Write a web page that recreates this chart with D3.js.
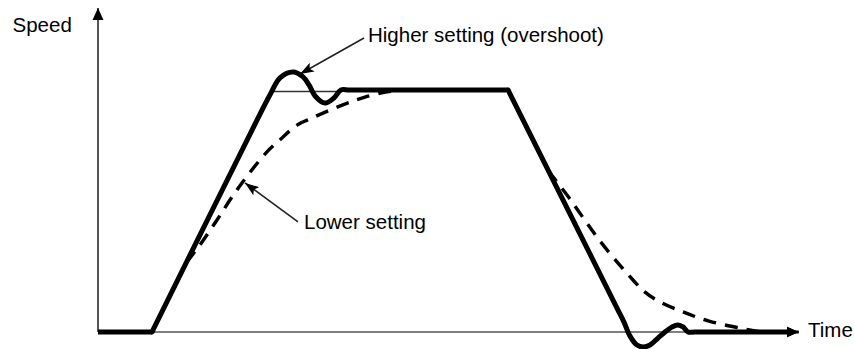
<!DOCTYPE html>
<html>
<head>
<meta charset="utf-8">
<script src="https://cdn.jsdelivr.net/npm/d3@7"></script>
<style>
  html, body { margin: 0; padding: 0; background: #fff; }
  svg { display: block; }
  text { font-family: "Liberation Sans", Arial, Helvetica, sans-serif; font-size: 20.5px; fill: #000; }
</style>
</head>
<body>
<svg id="chart" width="854" height="349"></svg>
<script>
// ---- Data (time units 0..100, speed units 0..100 = set speed) ----
const axisLabels = { x: "Time", y: "Speed" };
const annotationLabels = ["Higher setting (overshoot)", "Lower setting"];

// Higher setting (solid): accelerate, overshoot, hold, decelerate, undershoot
const higherTime  = [0, 7.45, 7.71, 7.95, 23.43, 24.71, 26.0, 27.86, 29.29, 30.14, 31.14, 32.43, 33.71, 34.71, 36.0, 58.3, 58.57, 58.8, 74.14, 75.14, 76.0, 77.0, 77.86, 78.86, 80.0, 81.0, 82.0, 82.86, 83.57, 84.29, 85.29, 98.43];
const higherSpeed = [0, 0,    0,    1.4,  91.7,  98.8,  105.0, 107.4, 105.4, 102.1, 97.1,  94.6,  96.7,  100,   100,  100,  100,   98.7, 9.9,   4.1,  -1.7, -5.4, -6.2,  -5.4,  -2.5, 0,    2.1,  2.9,  2.1,   0,     0,     0];

// Lower setting (dashed): slow exponential approach
const lowerUpTime  = [12.67, 14.57, 17.0, 19.14, 21.43, 24.14, 26.29, 28.43, 30.57, 33.14, 36.0, 38.14, 41.29, 43.14];
const lowerUpSpeed = [28.9,  36.0,  46.3, 55.8,  64.9,  74.4,  80.2,  85.5,  88.4,  91.7,  95.0, 97.1,  99.2,  100];
const lowerDownTime  = [64.36, 67.0, 69.43, 71.71, 74.29, 76.43, 78.14, 80.29, 83.57, 87.29, 91.57, 94.86];
const lowerDownSpeed = [66.5,  56.6, 46.7,  37.6,  28.5,  21.5,  16.5,  12.4,  8.3,   4.5,   1.7,   0];

// Reference line at set speed
const refTime = [24.86, 34.57];
const refSpeed = [99.4, 99.4];

// Axis extents
const axisTimeMax = 100.1;
const axisSpeedMax = 133.9;

// Annotation arrows [tailT, tailS, tipT, tipS]
const annHigher = [38.0, 121.5, 28.86, 106.6];
const annLower  = [28.57, 45.5, 21.0, 61.6];

// ---- Drawing ----
const svg = d3.select("#chart");
const x = d3.scaleLinear().domain([0, 100]).range([98, 798]);
const y = d3.scaleLinear().domain([0, 100]).range([332, 90]);

const defs = svg.append("defs");
defs.append("marker").attr("id", "axisHead")
  .attr("viewBox", "0 0 12 12").attr("refX", 12).attr("refY", 6)
  .attr("markerWidth", 12).attr("markerHeight", 12).attr("markerUnits", "userSpaceOnUse")
  .attr("orient", "auto")
  .append("path").attr("d", "M0,0.5 L12,6 L0,11.5 Z").attr("fill", "#000");
defs.append("marker").attr("id", "annHead")
  .attr("viewBox", "0 0 14 10").attr("refX", 14).attr("refY", 5)
  .attr("markerWidth", 14).attr("markerHeight", 10).attr("markerUnits", "userSpaceOnUse")
  .attr("orient", "auto")
  .append("path").attr("d", "M0,0 L14,5 L0,10 L3,5 Z").attr("fill", "#000");

// Axes
svg.append("line")
  .attr("x1", x(0)).attr("y1", y(0)).attr("x2", x(0)).attr("y2", y(axisSpeedMax))
  .attr("stroke", "#555").attr("stroke-width", 2).attr("marker-end", "url(#axisHead)");
svg.append("line")
  .attr("x1", x(0)).attr("y1", y(0)).attr("x2", x(axisTimeMax)).attr("y2", y(0))
  .attr("stroke", "#555").attr("stroke-width", 1.6).attr("marker-end", "url(#axisHead)");

// Reference line
svg.append("line")
  .attr("x1", x(refTime[0])).attr("y1", y(refSpeed[0]))
  .attr("x2", x(refTime[1])).attr("y2", y(refSpeed[1]))
  .attr("stroke", "#333").attr("stroke-width", 1.6);

const curve = d3.line().x(d => x(d[0])).y(d => y(d[1])).curve(d3.curveCatmullRom.alpha(0.5));

// Lower setting dashed
[[lowerUpTime, lowerUpSpeed], [lowerDownTime, lowerDownSpeed]].forEach(([t, s]) => {
  svg.append("path")
    .attr("d", curve(t.map((v, i) => [v, s[i]])))
    .attr("fill", "none").attr("stroke", "#000").attr("stroke-width", 3.4)
    .attr("stroke-dasharray", "13,9");
});

// Higher setting solid
svg.append("path")
  .attr("d", curve(higherTime.map((v, i) => [v, higherSpeed[i]])))
  .attr("fill", "none").attr("stroke", "#000").attr("stroke-width", 5)
  .attr("stroke-linejoin", "round");

// x-axis arrow overlay (thick end)
svg.append("line")
  .attr("x1", x(higherTime[higherTime.length - 1])).attr("y1", y(0))
  .attr("x2", x(axisTimeMax)).attr("y2", y(0))
  .attr("stroke", "#000").attr("stroke-width", 3).attr("marker-end", "url(#axisHead)");

// Annotation arrows
[annHigher, annLower].forEach(a => {
  svg.append("line")
    .attr("x1", x(a[0])).attr("y1", y(a[1])).attr("x2", x(a[2])).attr("y2", y(a[3]))
    .attr("stroke", "#222").attr("stroke-width", 1.6).attr("marker-end", "url(#annHead)");
});

// Texts
svg.append("text").attr("x", 12.5).attr("y", 31.5).text(axisLabels.y);
svg.append("text").attr("x", 808).attr("y", 336.7).text(axisLabels.x);
svg.append("text").attr("x", 368).attr("y", 42.3).text(annotationLabels[0]);
svg.append("text").attr("x", 304).attr("y", 229.3).text(annotationLabels[1]);
</script>
</body>
</html>
